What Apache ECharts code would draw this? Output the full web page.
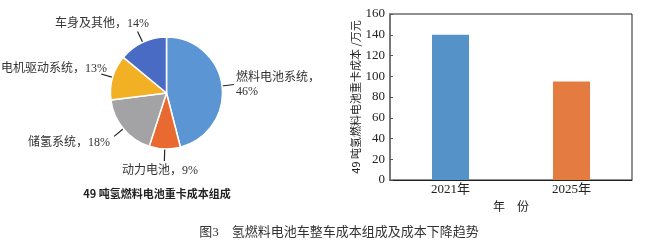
<!DOCTYPE html>
<html><head><meta charset="utf-8">
<script src="https://cdn.jsdelivr.net/npm/echarts@6/dist/echarts.min.js"></script>
<style>html,body{margin:0;padding:0;background:#fff}#c{width:661px;height:243px}</style>
</head><body><div id="c"></div>
<script>
const pieNames = ['燃料电池系统', '动力电池', '储氢系统', '电机驱动系统', '车身及其他'];
const pieValues = [46, 9, 18, 13, 14];
const pieColors = ['#5B95D3', '#E86A30', '#A3A3A5', '#F2B124', '#4A6BC4'];
const barCategories = ['2021年', '2025年'];
const barValues = [140, 95];
const barColors = ['#5592C8', '#E47B41'];
const yTicks = [0, 20, 40, 60, 80, 100, 120, 140, 160];

const serif = "'Liberation Serif', 'Noto Sans CJK SC', serif";
const cjk = "'Noto Sans CJK SC', sans-serif";
const PIE_C = [166.5, 93], PIE_R = 56, LINE_LEN = 12;
const labelPos = [
  {x: 236, y: 85, align: 'left'},
  {x: 160, y: 171, align: 'center'},
  {x: 110, y: 143, align: 'right'},
  {x: 107, y: 69, align: 'right'},
  {x: 102, y: 24, align: 'center'}
];
const pieTotal = pieValues.reduce((a, b) => a + b, 0);
function leaderPoints(i) {
  let cum = 0;
  for (let k = 0; k < i; k++) cum += pieValues[k];
  const th = (cum + pieValues[i] / 2) / pieTotal * 2 * Math.PI;
  const dx = Math.sin(th), dy = -Math.cos(th);
  return [
    [PIE_C[0] + PIE_R * dx, PIE_C[1] + PIE_R * dy],
    [PIE_C[0] + (PIE_R + LINE_LEN) * dx, PIE_C[1] + (PIE_R + LINE_LEN) * dy]
  ];
}

const chart = echarts.init(document.getElementById('c'), null, {renderer: 'canvas'});
chart.setOption({
  animation: false,
  title: [
    {text: '49 吨氢燃料电池重卡成本组成', left: 152, top: 183, textAlign: 'center',
     textStyle: {fontSize: 11, fontWeight: 'bold', color: '#222', fontFamily: cjk}},
    {text: '图3　氢燃料电池车整车成本组成及成本下降趋势', left: 334, top: 221, textAlign: 'center',
     textStyle: {fontSize: 13, fontWeight: 'normal', color: '#333', fontFamily: serif}}
  ],
  grid: {left: 390, right: 29, top: 14, bottom: 63, show: true, borderColor: '#222', borderWidth: 1},
  xAxis: {
    type: 'category', data: barCategories,
    name: '年　份', nameLocation: 'middle', nameGap: 18,
    nameTextStyle: {fontSize: 12, color: '#222', fontFamily: cjk},
    axisLine: {lineStyle: {color: '#222', width: 1}},
    axisTick: {show: false},
    axisLabel: {fontSize: 13, color: '#222', margin: 3, fontFamily: serif}
  },
  yAxis: {
    type: 'value', min: 0, max: 160, interval: 20,
    name: '49 吨氢燃料电池重卡成本 /万元', nameLocation: 'middle', nameGap: 24,
    nameTextStyle: {fontSize: 11, color: '#222', fontFamily: cjk},
    axisLine: {show: true, lineStyle: {color: '#777', width: 2}},
    axisTick: {show: true, inside: true, length: 3, lineStyle: {color: '#555'}},
    splitLine: {show: false},
    axisLabel: {fontSize: 13, color: '#222', margin: 5, fontFamily: serif,
      formatter: v => yTicks.includes(v) ? String(v) : ''}
  },
  series: [
    {
      type: 'bar', barWidth: 37,
      data: barValues.map((v, i) => ({value: v, itemStyle: {color: barColors[i]}}))
    },
    {
      type: 'pie', center: PIE_C, radius: [0, PIE_R], startAngle: 90, clockwise: true,
      itemStyle: {borderColor: '#fff', borderWidth: 1.5},
      label: {show: true, fontSize: 12, color: '#333', fontFamily: serif, lineHeight: 14, overflow: 'none',
        formatter: p => p.dataIndex === 0 ? p.name + '，\n' + p.value + '%' : p.name + '，' + p.value + '%'},
      labelLine: {show: true, length: 12, length2: 1, lineStyle: {color: '#222', width: 1.2}},
      labelLayout: p => Object.assign({verticalAlign: 'middle', labelLinePoints: leaderPoints(p.dataIndex)}, labelPos[p.dataIndex]),
      data: pieValues.map((v, i) => ({name: pieNames[i], value: v, itemStyle: {color: pieColors[i]}}))
    }
  ]
});
chart.on('finished', function once() {
  chart.off('finished', once);
  const zr = chart.getZr();
  const g = new echarts.graphic.Group();
  pieValues.forEach((v, i) => {
    const pts = leaderPoints(i);
    g.add(new echarts.graphic.Line({
      shape: {x1: pts[0][0], y1: pts[0][1], x2: pts[1][0], y2: pts[1][1]},
      style: {stroke: '#222', lineWidth: 1.2},
      z: 1000, silent: true
    }));
  });
  zr.add(g);
  zr.refreshImmediately && zr.refreshImmediately();
});
</script></body></html>
